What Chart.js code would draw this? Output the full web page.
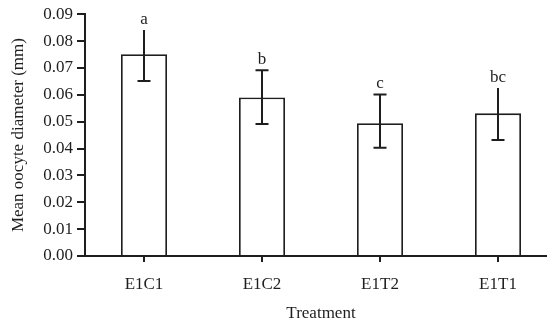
<!DOCTYPE html>
<html>
<head>
<meta charset="utf-8">
<script src="https://cdn.jsdelivr.net/npm/chart.js@4/dist/chart.umd.min.js"></script>
<style>
  html, body { margin: 0; padding: 0; background: #fff; overflow: hidden; }
  #wrap { width: 560px; height: 327px; }
</style>
</head>
<body>
<div id="wrap"><canvas id="barChart"></canvas></div>
<script>
var treatments = ["E1C1", "E1C2", "E1T2", "E1T1"];
var meanDiameter = [0.0751, 0.0590, 0.0494, 0.0531];
var errUpper = [0.0841, 0.0691, 0.0601, 0.0625];
var errLower = [0.0651, 0.0491, 0.0403, 0.0432];
var groupLetters = ["a", "b", "c", "bc"];
var yTicks = [0, 0.01, 0.02, 0.03, 0.04, 0.05, 0.06, 0.07, 0.08, 0.09];

var ink = "#1e1e1e";
var serif = "'Liberation Serif', 'DejaVu Serif', serif";
// the source figure only puts a cap on the top of the middle two bars
var topCap = [false, true, true, false];

// error bars + significance letters
var errorBarPlugin = {
  id: "errorBars",
  afterDatasetsDraw: function (chart) {
    var ctx = chart.ctx;
    var y = chart.scales.y;
    var meta = chart.getDatasetMeta(0);
    ctx.save();
    ctx.strokeStyle = ink;
    ctx.lineWidth = 2;
    ctx.fillStyle = ink;
    ctx.font = "17px " + serif;
    ctx.textAlign = "center";
    ctx.textBaseline = "middle";
    for (var i = 0; i < meta.data.length; i++) {
      var x = meta.data[i].x;
      var top = y.getPixelForValue(errUpper[i]);
      var bot = y.getPixelForValue(errLower[i]);
      ctx.beginPath();
      ctx.moveTo(x, top);
      ctx.lineTo(x, bot);
      ctx.moveTo(x - 6.5, bot);
      ctx.lineTo(x + 6.5, bot);
      if (topCap[i]) {
        ctx.moveTo(x - 6.5, top);
        ctx.lineTo(x + 6.5, top);
      }
      ctx.stroke();
      ctx.fillText(groupLetters[i], x, top - 11);
    }
    ctx.restore();
  }
};

var ctx = document.getElementById("barChart");
var chart = new Chart(ctx, {
  type: "bar",
  data: {
    labels: treatments,
    datasets: [{
      data: meanDiameter,
      backgroundColor: "#ffffff",
      borderColor: ink,
      borderWidth: 1.8,
      barPercentage: 0.39,
      categoryPercentage: 1.0
    }]
  },
  options: {
    responsive: true,
    maintainAspectRatio: false,
    animation: false,
    layout: { padding: { top: 4, right: 3, left: 0, bottom: 0 } },
    plugins: {
      legend: { display: false },
      tooltip: { enabled: false }
    },
    scales: {
      x: {
        grid: { offset: false, drawOnChartArea: false, tickLength: 6, color: ink, lineWidth: 2 },
        border: { display: true, color: ink, width: 2 },
        ticks: { color: ink, font: { family: serif, size: 17 }, padding: 12 },
        title: { display: true, text: "Treatment", color: ink, font: { family: serif, size: 17 }, padding: { top: 4, bottom: 3 } },
        afterFit: function (scale) { scale.height = 71; }
      },
      y: {
        min: 0,
        max: 0.09,
        afterBuildTicks: function (scale) {
          scale.ticks = yTicks.map(function (v) { return { value: v }; });
        },
        grid: { drawOnChartArea: false, tickLength: 8, color: ink, lineWidth: 2 },
        border: { display: true, color: ink, width: 2 },
        ticks: {
          color: ink,
          font: { family: serif, size: 17 },
          padding: 4,
          callback: function (v) { return v.toFixed(2); }
        },
        title: { display: true, text: "Mean oocyte diameter (mm)", color: ink, font: { family: serif, size: 17 }, padding: { top: 8, bottom: 0 } },
        afterFit: function (scale) { scale.width = 85; }
      }
    }
  },
  plugins: [errorBarPlugin]
});
</script>
</body>
</html>
